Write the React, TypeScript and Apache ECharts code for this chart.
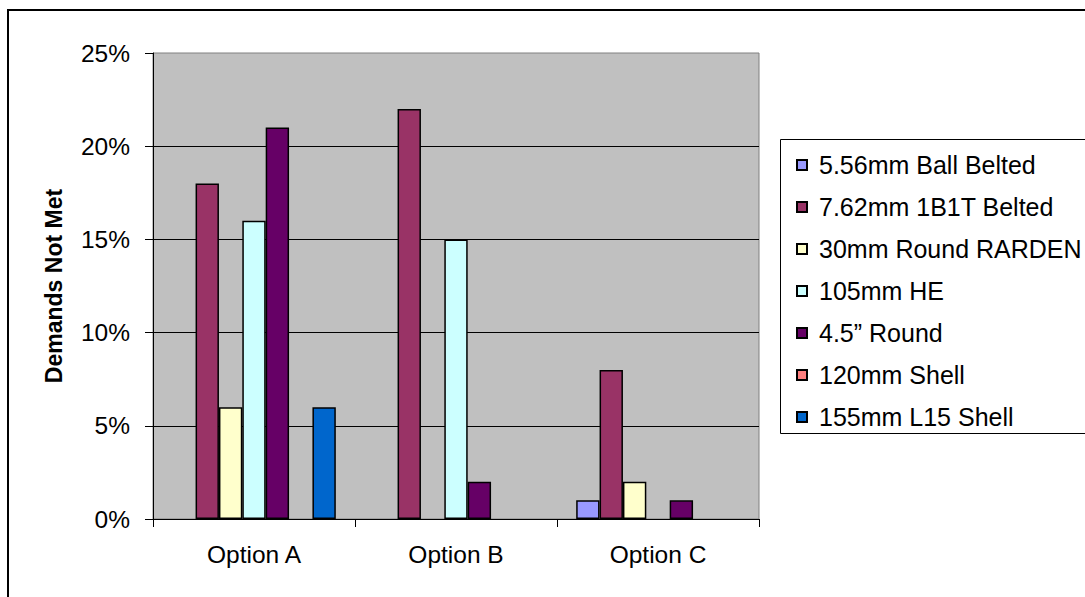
import React, { useEffect, useRef } from "react";
import * as echarts from "echarts";

const categories = ["Option A", "Option B", "Option C"];
const seriesNames = [
  "5.56mm Ball Belted",
  "7.62mm 1B1T Belted",
  "30mm Round RARDEN",
  "105mm HE",
  "4.5\u201D Round",
  "120mm Shell",
  "155mm L15 Shell",
];
const s556 = [null, null, 0.01];
const s762 = [0.18, 0.22, 0.08];
const s30 = [0.06, null, 0.02];
const s105 = [0.16, 0.15, null];
const s45 = [0.21, 0.02, 0.01];
const s120 = [null, null, null];
const s155 = [0.06, null, null];
const seriesData = [s556, s762, s30, s105, s45, s120, s155];
const colors = ["#9999FF", "#993366", "#FFFFCC", "#CCFFFF", "#660066", "#FF8080", "#0066CC"];
const yTicks = { min: 0, max: 0.25, interval: 0.05 };

const FONT = "Liberation Sans, Arial, sans-serif";

export default function App() {
  const ref = useRef<HTMLDivElement>(null);
  useEffect(() => {
    if (!ref.current) return;
    const chart = echarts.init(ref.current, null, { renderer: "svg" });
    chart.setOption({
      animation: false,
      backgroundColor: "#ffffff",
      textStyle: { fontFamily: FONT },
      graphic: [
        {
          type: "rect",
          z: -10,
          shape: { x: 8, y: 10, width: 1200, height: 700 },
          style: { fill: "none", stroke: "#000", lineWidth: 2 },
        },
        {
          type: "rect",
          z: -10,
          shape: { x: 780.5, y: 139.5, width: 400, height: 294 },
          style: { fill: "#fff", stroke: "#000", lineWidth: 1 },
        },
      ],
      grid: {
        left: 153,
        top: 53,
        width: 606,
        height: 466,
        show: true,
        backgroundColor: "#C0C0C0",
        borderColor: "#808080",
        borderWidth: 1,
      },
      legend: {
        orient: "vertical",
        left: 791,
        top: 147,
        itemWidth: 10,
        itemHeight: 10,
        itemGap: 16,
        icon: "rect",
        textStyle: {
          fontFamily: FONT,
          fontSize: 25,
          color: "#000",
          lineHeight: 26,
          padding: [0, 0, 0, 7],
        },
        data: seriesNames,
      },
      xAxis: {
        type: "category",
        data: categories,
        axisLine: { lineStyle: { color: "#000", width: 1 } },
        axisTick: { show: true, length: 8, lineStyle: { color: "#000" } },
        axisLabel: { fontFamily: FONT, fontSize: 24.5, color: "#000", margin: 23 },
      },
      yAxis: {
        type: "value",
        min: yTicks.min,
        max: yTicks.max,
        interval: yTicks.interval,
        name: "Demands Not Met",
        nameLocation: "middle",
        nameRotate: 90,
        nameGap: 88,
        nameTextStyle: { fontFamily: FONT, fontSize: 23, fontWeight: "bold", color: "#000" },
        axisLine: { show: true, lineStyle: { color: "#000", width: 1 } },
        axisTick: { show: true, length: 8, lineStyle: { color: "#000" } },
        axisLabel: {
          fontFamily: FONT,
          fontSize: 24.5,
          color: "#000",
          margin: 23,
          formatter: (v: number) => Math.round(v * 100) + "%",
        },
        splitLine: {
          show: true,
          showMaxLine: false,
          lineStyle: { color: "#000", width: 1 },
        },
      },
      series: seriesNames.map((name, i) => ({
        name,
        type: "bar",
        data: seriesData[i],
        barGap: "0%",
        barCategoryGap: "19%",
        itemStyle: { color: colors[i], borderColor: "#000", borderWidth: 1.5 },
      })),
    });
    return () => chart.dispose();
  }, []);
  return (
    <div
      ref={ref}
      style={{ position: "fixed", left: 0, top: 0, width: 1085, height: 597 }}
    />
  );
}
